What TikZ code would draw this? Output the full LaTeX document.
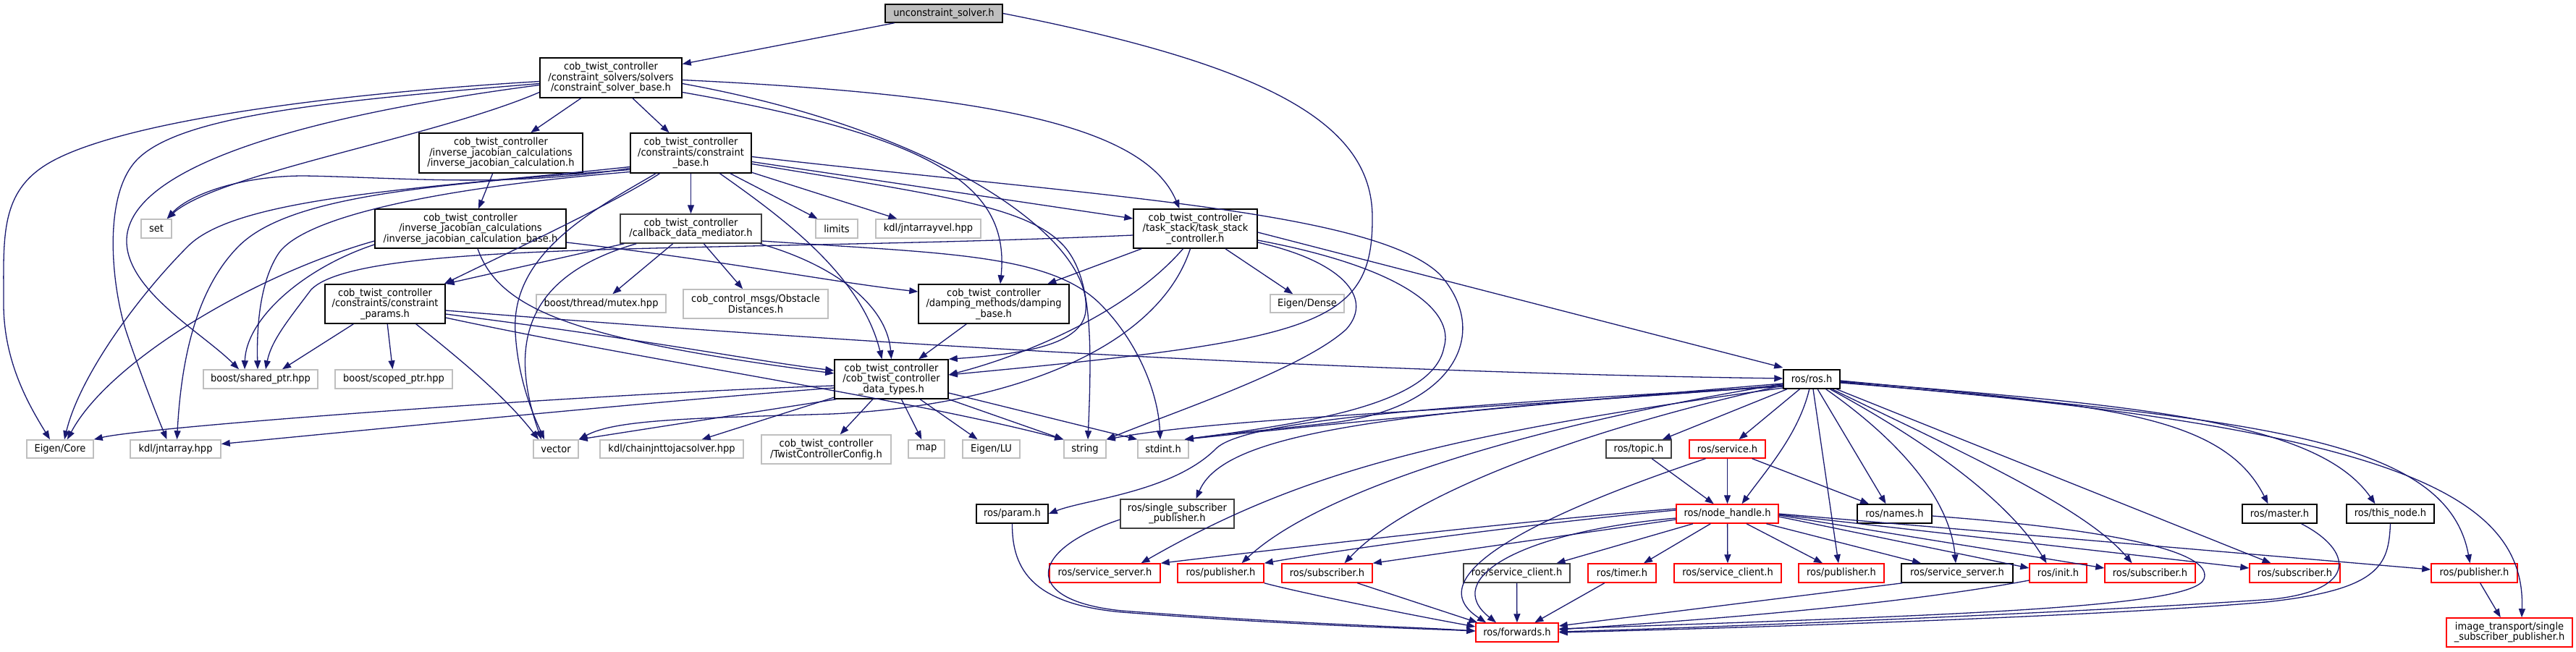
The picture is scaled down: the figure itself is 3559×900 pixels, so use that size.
\documentclass[tikz,border=0pt]{standalone}
\usepackage{fontspec}
\setmainfont{DejaVu Sans}[FakeStretch=0.93]
\usetikzlibrary{arrows.meta}
\definecolor{edgeblue}{HTML}{191970}
\definecolor{leafgray}{HTML}{BFBFBF}
\definecolor{dkgray}{HTML}{404040}
\definecolor{rootgray}{HTML}{BFBFBF}
\definecolor{redline}{HTML}{FF0000}
\newcommand{\nodefont}{\fontsize{14}{14.5}\selectfont}
\begin{document}
\begin{tikzpicture}[x=1pt,y=-1pt,
  box/.style={draw=black, line width=1.5pt, minimum height=26, inner sep=0pt, align=center, font=\nodefont},
  leaf/.style={box, draw=leafgray},
  redb/.style={box, draw=redline},
  darkb/.style={box, draw=dkgray},
  root/.style={box, fill=rootgray},
  e/.style={draw=edgeblue, line width=1.3pt, -{Triangle[length=12pt,width=9pt]}}]
\fill[white] (0,0) rectangle (3559,900);
\useasboundingbox (0,0) rectangle (3559,900);

% ---------- nodes ----------
\node[root, minimum width=162, minimum height=25] (A) at (1304,18.5) {unconstraint\_solver.h};
\node[box, minimum width=196, minimum height=55] (B) at (844,107.5) {cob\_twist\_controller\\/constraint\_solvers/solvers\\/constraint\_solver\_base.h};
\node[box, minimum width=226, minimum height=55] (C) at (692,211.5) {cob\_twist\_controller\\/inverse\_jacobian\_calculations\\/inverse\_jacobian\_calculation.h};
\node[box, minimum width=167, minimum height=55] (D) at (954.5,211.5) {cob\_twist\_controller\\/constraints/constraint\\\_base.h};
\node[box, minimum width=264, minimum height=54] (E) at (650,316) {cob\_twist\_controller\\/inverse\_jacobian\_calculations\\/inverse\_jacobian\_calculation\_base.h};
\node[darkb, minimum width=195, minimum height=40] (F) at (954.5,316) {cob\_twist\_controller\\/callback\_data\_mediator.h};
\node[box, minimum width=166, minimum height=54] (G) at (532,420) {cob\_twist\_controller\\/constraints/constraint\\\_params.h};
\node[box, minimum width=208, minimum height=54] (H) at (1373,420) {cob\_twist\_controller\\/damping\_methods/damping\\\_base.h};
\node[box, minimum width=171, minimum height=54] (I) at (1651.5,316) {cob\_twist\_controller\\/task\_stack/task\_stack\\\_controller.h};
\node[box, minimum width=157, minimum height=54] (J) at (1231.5,524) {cob\_twist\_controller\\/cob\_twist\_controller\\\_data\_types.h};
\node[box, minimum width=78] (K) at (2503,524) {ros/ros.h};

\node[leaf, minimum width=42] (set) at (216,316) {set};
\node[leaf, minimum width=58] (limits) at (1156,316) {limits};
\node[leaf, minimum width=145] (jntarrayvel) at (1282.5,316) {kdl/jntarrayvel.hpp};
\node[leaf, minimum width=179, minimum height=25] (mutex) at (830.5,419.5) {boost/thread/mutex.hpp};
\node[leaf, minimum width=200, minimum height=40] (obst) at (1044,420) {cob\_control\_msgs/Obstacle\\Distances.h};
\node[leaf, minimum width=102, minimum height=25] (edense) at (1806,419.5) {Eigen/Dense};
\node[leaf, minimum width=158] (sptr) at (360,524) {boost/shared\_ptr.hpp};
\node[leaf, minimum width=162] (scptr) at (544,524) {boost/scoped\_ptr.hpp};

\node[leaf, minimum width=92, minimum height=25] (ecore) at (83,620.5) {Eigen/Core};
\node[leaf, minimum width=125, minimum height=25] (jntarray) at (242.5,620.5) {kdl/jntarray.hpp};
\node[leaf, minimum width=62, minimum height=25] (vector) at (768,620.5) {vector};
\node[leaf, minimum width=198, minimum height=25] (chain) at (928,620.5) {kdl/chainjnttojacsolver.hpp};
\node[leaf, minimum width=179, minimum height=40] (tcfg) at (1141.5,621) {cob\_twist\_controller\\/TwistControllerConfig.h};
\node[leaf, minimum width=50, minimum height=25] (map) at (1280,620.5) {map};
\node[leaf, minimum width=79, minimum height=25] (elu) at (1369.5,620.5) {Eigen/LU};
\node[leaf, minimum width=58, minimum height=25] (string) at (1499,620.5) {string};
\node[leaf, minimum width=70, minimum height=25] (stdint) at (1607,620.5) {stdint.h};
\node[darkb, minimum width=90, minimum height=25] (topic) at (2264,620.5) {ros/topic.h};
\node[redb, minimum width=105, minimum height=25] (service) at (2386.5,620.5) {ros/service.h};

\node[box, minimum width=99] (param) at (1398.5,710) {ros/param.h};
\node[darkb, minimum width=157, minimum height=40] (ssp) at (1626.5,710) {ros/single\_subscriber\\\_publisher.h};
\node[redb, minimum width=141] (nh) at (2386.5,710) {ros/node\_handle.h};
\node[box, minimum width=103] (names) at (2617.5,710) {ros/names.h};
\node[box, minimum width=103] (master) at (3149.5,710) {ros/master.h};
\node[box, minimum width=121] (thisnode) at (3302.5,710) {ros/this\_node.h};

\node[redb, minimum width=153] (ss1) at (1526.5,792) {ros/service\_server.h};
\node[redb, minimum width=119] (pub1) at (1686.5,792) {ros/publisher.h};
\node[redb, minimum width=125] (sub1) at (1833.5,792) {ros/subscriber.h};
\node[darkb, minimum width=147] (scl1) at (2095.5,792) {ros/service\_client.h};
\node[redb, minimum width=94] (timer) at (2241,792) {ros/timer.h};
\node[redb, minimum width=148] (scl2) at (2387,792) {ros/service\_client.h};
\node[redb, minimum width=118] (pub2) at (2544,792) {ros/publisher.h};
\node[box, minimum width=154] (ss2) at (2704,792) {ros/service\_server.h};
\node[redb, minimum width=79] (init) at (2843.5,792) {ros/init.h};
\node[redb, minimum width=125] (sub2) at (2970.5,792) {ros/subscriber.h};
\node[redb, minimum width=125] (sub3) at (3170.5,792) {ros/subscriber.h};
\node[redb, minimum width=119] (pub3) at (3418.5,792) {ros/publisher.h};
\node[redb, minimum width=114] (forwards) at (2096,874) {ros/forwards.h};
\node[redb, minimum width=174, minimum height=40] (itssp) at (3467,874) {image\_transport/single\\\_subscriber\_publisher.h};

% ---------- edges ----------
% A
\draw[e] (A) -- (B);
\draw[e] (A.east) .. controls (1750,90) and (1896,170) .. (1896,300) .. controls (1897,450) and (1820,470) .. ([yshift=6pt]J.east);
% B
\draw[e] (B) -- (C);
\draw[e] (B) -- (D);
\draw[e] ([yshift=-20pt]B.west) .. controls (600,190) and (300,240) .. ([xshift=-7pt]set.north east);
\draw[e] ([yshift=-5pt]B.west) .. controls (450,130) and (150,170) .. (60,230) .. controls (0,270) and (5,330) .. (5,420) .. controls (5,500) and (40,560) .. ([xshift=-14pt]ecore.north);
\draw[e] ([yshift=-8pt]B.west) .. controls (450,140) and (250,160) .. (190,220) .. controls (140,270) and (155,400) .. (175,460) .. controls (190,505) and (215,570) .. ([xshift=-12pt]jntarray.north);
\draw[e] ([yshift=-10pt]B.west) .. controls (420,160) and (180,230) .. (175,330) .. controls (172,400) and (280,460) .. ([xshift=-30pt]sptr.north);
\draw[e] ([yshift=-3pt]B.east) .. controls (1350,130) and (1580,170) .. ([xshift=-22pt]I.north);
\draw[e] ([yshift=-20pt]B.east) .. controls (1300,190) and (1395,260) .. ([xshift=9pt]H.north);
\draw[e] ([yshift=-8pt]B.east) .. controls (1300,180) and (1510,330) .. (1500,430) .. controls (1495,480) and (1400,490) .. (J.north east);
% C
\draw[e] (C) -- (E);
% D
\draw[e] ([yshift=-21pt]D.west) .. controls (700,260) and (550,245) .. (420,243) .. controls (330,243) and (260,270) .. ([xshift=-7pt]set.north east);
\draw[e] ([yshift=-19pt]D.west) .. controls (600,260) and (330,270) .. (260,340) .. controls (190,410) and (110,520) .. ([xshift=6pt]ecore.north);
\draw[e] ([yshift=-23pt]D.west) .. controls (600,255) and (400,270) .. (330,340) .. controls (270,400) and (250,500) .. ([xshift=2pt]jntarray.north);
\draw[e] ([yshift=-26pt]D.west) .. controls (600,260) and (420,300) .. (385,350) .. controls (355,395) and (355,470) .. ([xshift=-4pt]sptr.north);
\draw[e] (D) -- (F);
\draw[e] (D) .. controls (850,280) and (700,350) .. ([xshift=-2pt]G.north east);
\draw[e] (D) -- (limits);
\draw[e] (D) -- (jntarrayvel);
\draw[e] (D) .. controls (1080,300) and (1190,380) .. ([xshift=-13pt]J.north);
\draw[e] ([yshift=-12pt]D.east) -- ([yshift=14pt]I.west);
\draw[e] ([yshift=-15pt]D.east) .. controls (1300,270) and (1420,285) .. (1470,340) .. controls (1505,380) and (1510,450) .. ([xshift=4pt]string.north);
\draw[e] ([yshift=-5pt]D.east) .. controls (1500,270) and (1900,290) .. (1990,380) .. controls (2060,460) and (2010,560) .. (1850,583) .. controls (1750,595) and (1700,598) .. ([xshift=-6pt]stdint.north east);
\draw[e] (D) .. controls (820,290) and (705,350) .. (712,460) .. controls (716,530) and (740,580) .. ([xshift=-16pt]vector.north);
% F
\draw[e] (F) -- (G.north east);
\draw[e] (F) -- (mutex);
\draw[e] (F) -- (obst);
\draw[e] ([xshift=-3pt]F.south east) .. controls (1150,365) and (1225,420) .. (J.north);
\draw[e] ([xshift=23pt]F.south west) .. controls (730,380) and (700,470) .. ([xshift=-20pt]vector.north);
\draw[e] ([yshift=-17pt]F.east) .. controls (1300,350) and (1450,350) .. (1520,420) .. controls (1570,470) and (1600,540) .. ([xshift=-4pt]stdint.north);
% G
\draw[e] (G) -- ([xshift=30pt]sptr.north);
\draw[e] (G) -- (scptr);
\draw[e] ([xshift=-41pt]G.south east) .. controls (640,500) and (700,550) .. ([xshift=-24pt]vector.north);
\draw[e] ([yshift=-14pt]G.east) .. controls (900,470) and (1050,500) .. ([yshift=12pt]J.west);
\draw[e] ([yshift=-19pt]G.east) .. controls (900,500) and (1250,550) .. (string.north west);
\draw[e] ([yshift=-9pt]G.east) .. controls (1250,480) and (1900,515) .. ([yshift=1pt]K.west);
% E
\draw[e] ([yshift=-22pt]E.west) .. controls (420,370) and (340,440) .. ([xshift=-22pt]sptr.north);
\draw[e] ([yshift=-17pt]E.west) .. controls (350,380) and (150,500) .. ([xshift=10pt]ecore.north);
\draw[e] ([yshift=-19pt]E.east) .. controls (1000,360) and (1150,390) .. ([yshift=17pt]H.west);
\draw[e] ([xshift=10pt]E.south) .. controls (690,430) and (800,470) .. ([yshift=8pt]J.west);
% H
\draw[e] (H) -- (J);
% I
\draw[e] (I) -- (H);
\draw[e] (I) -- (edense);
\draw[e] ([xshift=-17pt]I.south) .. controls (1560,430) and (1420,490) .. ([yshift=6pt]J.east);
\draw[e] ([xshift=-7pt]I.south) .. controls (1600,480) and (1400,560) .. (1150,572) .. controls (950,578) and (850,580) .. (vector.north east);
\draw[e] ([yshift=-9pt]I.west) .. controls (1000,350) and (500,330) .. (430,400) .. controls (400,440) and (375,470) .. ([xshift=7pt]sptr.north);
\draw[e] ([yshift=-5pt]I.east) -- ([yshift=16pt]K.west);
\draw[e] ([yshift=-19pt]I.east) .. controls (1850,360) and (1900,410) .. (1860,455) .. controls (1800,510) and (1620,570) .. (string.north east);
\draw[e] ([yshift=-16pt]I.east) .. controls (1940,370) and (2010,430) .. (1995,480) .. controls (1980,560) and (1800,585) .. ([xshift=-6pt]stdint.north east);
% J
\draw[e] ([yshift=-9pt]J.west) .. controls (800,545) and (200,590) .. (ecore.north east);
\draw[e] ([yshift=-12pt]J.west) .. controls (900,555) and (500,595) .. ([yshift=7pt]jntarray.east);
\draw[e] ([xshift=3pt]J.south west) -- (vector.north east);
\draw[e] (J) -- (chain);
\draw[e] (J) -- (tcfg);
\draw[e] (J) -- (map);
\draw[e] (J) -- (elu);
\draw[e] (J.south east) -- (string.north west);
\draw[e] ([yshift=-19pt]J.east) -- (stdint.north west);
% K
\draw[e] ([yshift=-6pt]K.west) .. controls (2100,560) and (1800,590) .. ([xshift=-6pt]stdint.north east);
\draw[e] ([yshift=-8pt]K.west) .. controls (2100,565) and (1700,575) .. (string.north east);
\draw[e] ([yshift=-10pt]K.west) .. controls (2000,560) and (1720,580) .. (1680,620) .. controls (1620,680) and (1500,690) .. (param.east);
\draw[e] ([yshift=-10pt]K.west) .. controls (1900,570) and (1690,600) .. ([xshift=26pt]ssp.north);
\draw[e] ([yshift=-12pt]K.west) .. controls (2000,600) and (1800,650) .. ([xshift=50pt]ss1.north);
\draw[e] (K) .. controls (2100,590) and (1820,680) .. ([xshift=29pt]pub1.north);
\draw[e] (K) .. controls (2200,590) and (1950,680) .. ([xshift=24pt]sub1.north);
\draw[e] (K) -- (topic);
\draw[e] (K) -- (service);
\draw[e] (K) .. controls (2485,600) and (2440,650) .. ([xshift=20pt]nh.north);
\draw[e] (K) -- ([xshift=-4pt]pub2.north);
\draw[e] (K) -- ([xshift=-12pt]names.north);
\draw[e] (K) .. controls (2640,620) and (2695,700) .. ([xshift=-2pt]ss2.north);
\draw[e] (K) .. controls (2680,620) and (2780,700) .. ([xshift=-16pt]init.north);
\draw[e] (K) .. controls (2700,620) and (2880,700) .. ([xshift=-25pt]sub2.north);
\draw[e] (K) -- ([xshift=-33pt]sub3.north);
\draw[e] ([yshift=-2pt]K.east) .. controls (2900,560) and (3070,570) .. ([xshift=-16pt]master.north);
\draw[e] ([yshift=-3pt]K.east) .. controls (2950,560) and (3200,580) .. ([xshift=-21pt]thisnode.north);
\draw[e] ([yshift=-4pt]K.east) .. controls (3100,580) and (3380,600) .. ([xshift=-6pt]pub3.north);
\draw[e] ([yshift=-5pt]K.east) .. controls (3300,590) and (3490,680) .. ([xshift=17pt]itssp.north);
% topic, service, names
\draw[e] (topic) -- (nh);
\draw[e] (service) -- (nh);
\draw[e] (service) -- (names);
\draw[e] ([xshift=-30pt]service.south) .. controls (2100,720) and (1960,800) .. ([xshift=-43pt]forwards.north);
\draw[e] ([yshift=-6pt]nh.west) .. controls (2100,735) and (1990,800) .. ([xshift=-29pt]forwards.north);
\draw[e] ([yshift=-3pt]names.east) .. controls (2900,730) and (3060,760) .. (3045,800) .. controls (3030,840) and (2700,850) .. ([yshift=5pt]forwards.east);
% node_handle
\draw[e] ([yshift=7pt]nh.west) .. controls (2100,720) and (1800,755) .. (ss1.north east);
\draw[e] ([yshift=5pt]nh.west) .. controls (2100,725) and (1850,760) .. (pub1.north east);
\draw[e] ([yshift=-8pt]nh.west) -- (sub1.north east);
\draw[e] (nh) -- ([xshift=55pt]scl1.north);
\draw[e] (nh) -- ([xshift=30pt]timer.north);
\draw[e] (nh) -- (scl2);
\draw[e] (nh) -- ([xshift=-26pt]pub2.north);
\draw[e] (nh) -- ([xshift=-50pt]ss2.north);
\draw[e] ([yshift=-4pt]nh.east) -- ([yshift=7pt]init.west);
\draw[e] ([yshift=-2pt]nh.east) -- ([yshift=7pt]sub2.west);
\draw[e] ([yshift=-1pt]nh.east) -- ([yshift=7pt]sub3.west);
\draw[e] (nh.east) -- ([yshift=5pt]pub3.west);
% into forwards
\draw[e] (param.south) .. controls (1398,790) and (1430,835) .. (1550,846) .. controls (1800,865) and (1950,868) .. ([yshift=2pt]forwards.west);
\draw[e] ([yshift=-8pt]ssp.west) .. controls (1420,760) and (1410,830) .. (1550,844) .. controls (1800,863) and (1950,866) .. ([yshift=2pt]forwards.west);
\draw[e] (pub1.south east) .. controls (1800,820) and (1950,850) .. ([yshift=8pt]forwards.west);
\draw[e] (sub1) -- ([xshift=3pt]forwards.north west);
\draw[e] (scl1) -- (forwards);
\draw[e] (timer) -- (forwards);
\draw[e] ([xshift=2pt]ss2.south west) -- ([yshift=9pt]forwards.east);
\draw[e] ([yshift=-10pt]init.west) .. controls (2600,840) and (2300,860) .. ([yshift=4pt]forwards.east);
\draw[e] ([xshift=30pt]master.south) .. controls (3250,760) and (3260,815) .. (3140,828) .. controls (2900,845) and (2400,866) .. ([yshift=1pt]forwards.east);
\draw[e] (thisnode.south) .. controls (3300,780) and (3290,815) .. (3130,832) .. controls (2900,852) and (2400,868) .. (forwards.east);
\draw[e] (pub3) -- (itssp);
\end{tikzpicture}
\end{document}
